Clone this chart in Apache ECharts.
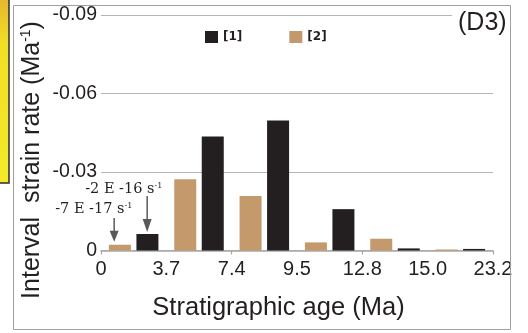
<!DOCTYPE html>
<html>
<head>
<meta charset="utf-8">
<script src="https://cdn.jsdelivr.net/npm/echarts@6/dist/echarts.min.js"></script>
<style>
  html, body { margin: 0; padding: 0; background: #ffffff; }
  #chart { width: 528px; height: 333px; }
</style>
</head>
<body>
<div id="chart"></div>
<script>
// Interval strain rate per stratigraphic interval (Ma^-1, negative = shortening)
const intervals = ['0-3.7', '3.7-7.4', '7.4-9.5', '9.5-12.8', '12.8-15.0', '15.0-23.2'];
const tickLabels = ['0', '3.7', '7.4', '9.5', '12.8', '15.0', '23.2'];
const rate1 = [-0.0063, -0.0436, -0.0497, -0.0158, -0.0008, -0.0006]; // [1]
const rate2 = [-0.0022, -0.0272, -0.0208, -0.0031, -0.0045, -0.0004]; // [2]
const yTicks = [-0.09, -0.06, -0.03, 0];

const SEC_PER_MA = 3.15576e13;
const TEXT = '#231f20';
const SANS = '"Liberation Sans", Arial, sans-serif';

// "-2 E -16 s^-1" style label from a rate in Ma^-1
function perSecondLabel(v) {
  const s = v / SEC_PER_MA;
  const exp = Math.floor(Math.log10(Math.abs(s)));
  let man = Math.round(s / Math.pow(10, exp));
  let e = exp;
  if (Math.abs(man) >= 10) { man = man / 10; e += 1; }
  return man + ' E ' + e + ' s{sup|-1}';
}

const chart = echarts.init(document.getElementById('chart'), null, { renderer: 'canvas' });

chart.setOption({
  animation: false,
  backgroundColor: '#ffffff',
  grid: { left: 101, right: 35, top: 15, bottom: 82.5, containLabel: false },
  legend: {
    data: ['[1]', '[2]'],
    left: 205, top: 31, padding: 0,
    itemWidth: 13, itemHeight: 12, itemGap: 47,
    icon: 'rect',
    textStyle: { fontFamily: '"DejaVu Sans", sans-serif', fontWeight: 'bold', fontSize: 12, color: TEXT }
  },
  xAxis: [
    {
      type: 'category',
      data: intervals,
      boundaryGap: true,
      axisLine: { show: true, onZero: false, lineStyle: { color: '#a8a8a8', width: 1.5 } },
      axisTick: { show: true, alignWithLabel: false, length: 4, lineStyle: { color: '#a8a8a8', width: 1.2 } },
      axisLabel: { show: false },
      splitLine: { show: false }
    },
    {
      type: 'value',
      position: 'bottom',
      min: 0, max: tickLabels.length - 1, interval: 1,
      axisLine: { show: false },
      axisTick: { show: false },
      splitLine: { show: false },
      axisLabel: {
        margin: 9,
        fontFamily: SANS, fontSize: 20, color: TEXT,
        formatter: v => tickLabels[Math.round(v)]
      }
    }
  ],
  yAxis: {
    type: 'value',
    min: yTicks[0], max: yTicks[yTicks.length - 1], interval: 0.03,
    inverse: true,
    axisLine: { show: false },
    axisTick: { show: false },
    splitLine: { show: true, lineStyle: { color: '#b5b5b5', width: 1.2 } },
    axisLabel: {
      margin: 4,
      fontFamily: SANS, fontSize: 19.5, color: TEXT,
      formatter: v => (Math.abs(v) < 1e-9 ? '0' : v.toFixed(2))
    }
  },
  series: [
    {
      name: '[2]', type: 'bar', data: rate2,
      barWidth: 22, barGap: '25%',
      itemStyle: { color: '#c49a6c' }
    },
    {
      name: '[1]', type: 'bar', data: rate1,
      barWidth: 22, barGap: '25%',
      itemStyle: { color: '#231f20' }
    }
  ]
});

// Annotation arrows pointing at the first-interval bars
const base = chart.convertToPixel({ seriesIndex: 0 }, [0, rate2[0]]);
const topTan = base[1];
const topBlack = chart.convertToPixel({ seriesIndex: 1 }, [0, rate1[0]])[1];
const cx = base[0];

function arrow(x, yStart, yTip, head) {
  return [
    { type: 'line', z: 100, shape: { x1: x, y1: yStart, x2: x, y2: yTip - head + 1 },
      style: { stroke: '#595959', lineWidth: 1.5 } },
    { type: 'polygon', z: 100, shape: { points: [[x - 4.5, yTip - head], [x + 4.5, yTip - head], [x, yTip]] },
      style: { fill: '#595959' } }
  ];
}

const annoRich = { sup: { fontSize: 8, verticalAlign: 'top', fontFamily: '"DejaVu Serif", serif' } };
const xBlack = cx + 13.5, xTan = cx - 19.5;

chart.setOption({
  graphic: [
    // neighbouring panel edge
    { type: 'rect', z: 100, shape: { x: -3, y: -3, width: 12, height: 186 },
      style: { fill: new echarts.graphic.LinearGradient(0, 0, 0, 1, [
        { offset: 0, color: '#e6b42e' }, { offset: 0.25, color: '#f1de26' }, { offset: 1, color: '#f4ea2a' }
      ]), stroke: '#2e2e2e', lineWidth: 1.5 } },
    // panel frame
    { type: 'rect', z: 100, shape: { x: 13.5, y: 5.5, width: 497, height: 324 },
      style: { fill: 'none', stroke: '#a0a0a0', lineWidth: 1 } },
    // panel tag
    { type: 'rect', z: 100, shape: { x: 452, y: 8, width: 57, height: 30 },
      style: { fill: '#ffffff' } },
    { type: 'text', z: 101, style: { text: '(D3)', x: 458, y: 23, textVerticalAlign: 'middle',
      font: '25px "Liberation Sans", Arial, sans-serif', fill: TEXT } },
    // axis titles
    { type: 'text', z: 101, x: 32, y: 160, rotation: Math.PI / 2,
      style: { text: 'Interval  strain rate (Ma{sup|-1})', textAlign: 'center', textVerticalAlign: 'middle',
        font: '25px "Liberation Sans", Arial, sans-serif', fill: TEXT,
        rich: { sup: { fontSize: 14, verticalAlign: 'top', fontFamily: SANS, fill: TEXT } } } },
    { type: 'text', z: 101, style: { text: 'Stratigraphic age (Ma)', x: 278.5, y: 308,
      textAlign: 'center', textVerticalAlign: 'middle',
      font: '25.5px "Liberation Sans", Arial, sans-serif', fill: TEXT } },
    // rate labels in s^-1
    { type: 'text', z: 101, style: { text: perSecondLabel(rate1[0]), x: xBlack - 62, y: 196 - 7,
      textVerticalAlign: 'middle', font: '14.5px "DejaVu Serif", serif', fill: TEXT, rich: annoRich } },
    { type: 'text', z: 101, style: { text: perSecondLabel(rate2[0]), x: xTan - 59, y: 218 - 9,
      textVerticalAlign: 'middle', font: '14.5px "DejaVu Serif", serif', fill: TEXT, rich: annoRich } },
    ...arrow(xBlack, 196, topBlack - 2, 13),
    ...arrow(xTan, 218, topTan - 3, 11)
  ]
});
</script>
</body>
</html>
